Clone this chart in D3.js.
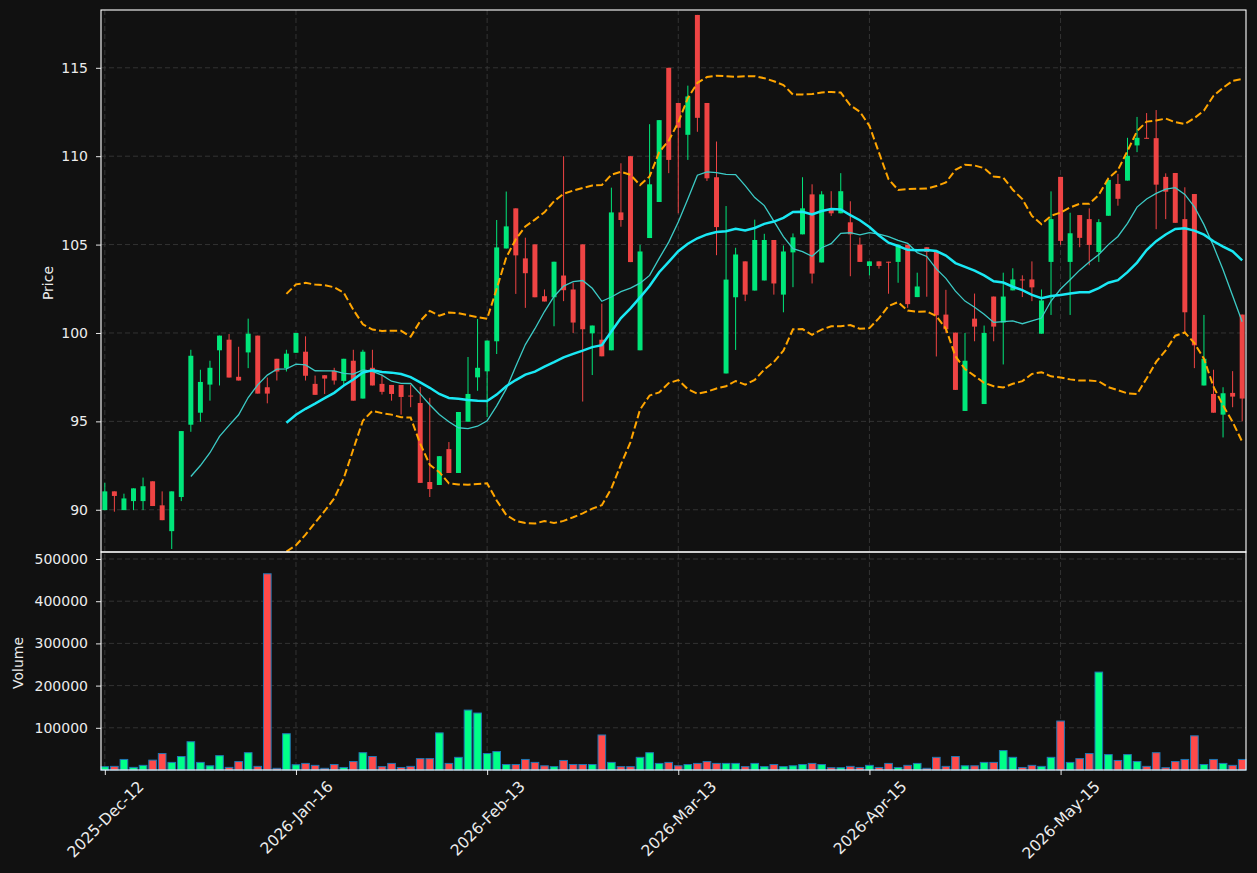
<!DOCTYPE html>
<html>
<head>
<meta charset="utf-8">
<title>Price and volume</title>
<script src="https://d3js.org/d3.v7.min.js"></script>
<style>
  body { margin: 0; background: #111111; }
  text { font-family: "DejaVu Sans", sans-serif; }
</style>
</head>
<body>
<script>
// ---- data (one entry per candle, 120 candles) ----
var opens = [89.98, 91.04, 89.98, 90.49, 90.49, 91.61, 90.25, 88.79, 90.72, 94.81,
  95.49, 97.08, 99.02, 99.62, 97.52, 98.90, 99.85, 96.93, 98.54, 98.01,
  98.88, 98.94, 97.12, 97.61, 97.86, 97.29, 98.43, 96.29, 98.03, 97.12,
  97.06, 97.06, 96.46, 96.04, 91.57, 91.40, 93.43, 92.08, 94.98, 97.49,
  97.83, 99.53, 104.78, 107.05, 104.22, 105.01, 102.08, 102.02, 103.25, 102.46,
  105.01, 99.98, 99.62, 99.02, 106.82, 110.0, 99.02, 105.37, 107.41, 115.0,
  113.01, 111.21, 117.99, 113.01, 108.81, 97.71, 102.02, 104.05, 102.40, 102.97,
  105.26, 102.17, 104.56, 105.58, 107.84, 103.99, 107.0, 106.77, 106.26, 105.0,
  103.79, 104.05, 104.03, 104.02, 105.0, 102.03, 104.85, 104.64, 101.04, 100.02,
  95.59, 100.81, 95.98, 102.06, 100.59, 102.41, 103.03, 103.03, 99.96, 104.02,
  108.83, 104.02, 106.67, 106.44, 104.58, 106.63, 108.43, 108.62, 110.61, 111.04,
  111.02, 108.83, 109.05, 106.44, 107.86, 97.03, 96.55, 95.38, 96.61, 101.04];
var highs = [91.52, 91.04, 90.91, 91.21, 91.82, 91.61, 91.04, 91.04, 94.45, 99.05,
  97.92, 98.43, 99.85, 99.94, 99.22, 100.81, 99.85, 97.48, 98.54, 99.05,
  100.0, 99.81, 97.59, 97.61, 98.03, 98.54, 99.05, 99.05, 99.05, 97.63,
  97.06, 97.06, 97.06, 96.95, 96.33, 93.03, 93.83, 95.53, 98.64, 100.79,
  99.57, 106.39, 108.0, 107.05, 105.39, 105.01, 102.46, 104.03, 110.0, 102.84,
  105.01, 100.42, 101.66, 108.22, 109.60, 110.0, 104.99, 111.81, 112.04, 115.0,
  113.01, 113.99, 117.99, 113.01, 110.83, 107.18, 104.82, 104.05, 106.41, 105.61,
  105.26, 104.95, 105.63, 108.81, 108.41, 108.02, 108.02, 109.04, 107.45, 105.40,
  104.05, 104.05, 104.03, 105.0, 105.0, 103.41, 104.85, 104.64, 102.44, 100.02,
  100.0, 102.23, 100.42, 102.06, 103.41, 103.66, 103.26, 104.05, 102.46, 108.01,
  108.83, 106.80, 106.67, 107.05, 106.44, 108.66, 109.0, 111.04, 112.22, 112.44,
  112.61, 109.03, 109.05, 108.24, 107.86, 101.02, 97.92, 96.93, 97.84, 101.04];
var lows = [89.98, 89.89, 89.98, 89.98, 89.98, 90.21, 89.41, 87.78, 90.49, 94.41,
  94.98, 96.17, 97.03, 97.48, 97.31, 98.01, 96.57, 96.02, 97.31, 97.82,
  98.88, 97.31, 96.50, 96.55, 97.08, 97.06, 96.17, 96.29, 97.03, 96.52,
  96.17, 95.38, 95.80, 91.52, 90.72, 91.40, 92.08, 92.08, 94.98, 96.73,
  95.24, 98.81, 104.78, 102.21, 101.42, 102.02, 101.78, 100.38, 101.80, 100.0,
  96.12, 97.62, 98.68, 99.02, 106.01, 104.01, 99.02, 105.37, 107.41, 109.04,
  106.77, 109.79, 111.38, 108.60, 104.40, 97.71, 99.04, 101.80, 102.40, 102.97,
  102.17, 101.17, 102.59, 105.58, 102.80, 103.99, 106.62, 106.77, 103.21, 104.02,
  103.26, 103.64, 102.22, 102.84, 101.42, 102.03, 102.05, 98.67, 100.0, 96.78,
  95.59, 99.53, 95.98, 99.53, 98.22, 102.41, 102.03, 101.80, 99.96, 101.02,
  104.98, 101.02, 104.85, 103.83, 104.02, 106.63, 107.20, 108.62, 110.23, 111.0,
  105.87, 106.44, 106.23, 100.04, 98.01, 97.03, 95.49, 94.09, 95.80, 95.0];
var closes = [91.04, 90.78, 90.64, 91.21, 91.33, 90.21, 89.41, 91.04, 94.45, 98.71,
  97.23, 98.03, 99.85, 97.48, 97.31, 99.96, 96.57, 96.57, 97.82, 98.83,
  100.0, 97.58, 96.50, 97.42, 97.31, 98.54, 96.17, 98.94, 97.03, 96.67,
  96.55, 96.38, 96.42, 91.52, 91.17, 93.03, 92.08, 95.53, 96.55, 98.03,
  99.57, 104.84, 106.03, 104.39, 103.38, 102.02, 101.78, 104.03, 102.42, 100.59,
  100.21, 100.42, 98.68, 106.82, 106.39, 104.01, 104.61, 108.41, 112.04, 109.79,
  111.61, 113.38, 112.17, 108.75, 105.99, 103.02, 104.44, 102.17, 105.26, 105.26,
  102.80, 104.61, 105.41, 107.05, 103.36, 107.84, 106.77, 108.02, 105.58, 104.02,
  104.05, 103.79, 103.98, 105.0, 101.63, 102.63, 104.58, 101.0, 100.21, 96.78,
  98.43, 100.36, 100.0, 100.36, 102.06, 103.03, 102.99, 102.58, 101.84, 106.44,
  105.21, 105.64, 105.38, 104.98, 106.27, 108.66, 107.59, 110.02, 111.04, 111.0,
  108.39, 107.99, 106.23, 101.17, 99.30, 98.54, 95.49, 96.59, 96.40, 96.29];
var volumes = [7800, 8600, 25000, 6200, 11000, 23400, 39000, 18000, 32000, 67000,
  18000, 10000, 34000, 6200, 20000, 41000, 8600, 465000, 4000, 86000,
  12500, 15600, 11000, 4000, 13000, 6000, 20000, 41000, 32000, 8000,
  15600, 6000, 8600, 27000, 27000, 88000, 15600, 30000, 142000, 135000,
  39000, 43700, 13000, 13000, 25000, 18000, 10000, 8000, 22600, 13000,
  13000, 13000, 83000, 18000, 8000, 8000, 30000, 41000, 15600, 18000,
  10000, 13000, 15600, 20000, 15600, 15600, 15600, 8000, 15600, 8000,
  13000, 8000, 10000, 13000, 15600, 13000, 5500, 5500, 8600, 6000,
  11000, 6000, 15600, 6000, 11000, 15600, 4000, 30000, 8600, 32000,
  10000, 10000, 18000, 18000, 46000, 30000, 6000, 11000, 8600, 30000,
  116000, 18000, 27000, 39000, 232000, 36600, 22600, 36600, 20000, 8600,
  41000, 5500, 20000, 25000, 81000, 13000, 25000, 15600, 11000, 25000];

var tickIdx = [0, 20, 40, 60, 80, 100];
var tickLabels = ["2025-Dec-12", "2026-Jan-16", "2026-Feb-13", "2026-Mar-13", "2026-Apr-15", "2026-May-15"];
var priceTicks = [90, 95, 100, 105, 110, 115];
var volTicks = [100000, 200000, 300000, 400000, 500000];

// ---- layout ----
var w = 1257, h = 873;
var left = 101, right = 1246, plotTop = 10, mid = 552, bottom = 770;
var upCol = "#00e67a", downCol = "#ef4444";
var upVol = "#00ff88", downVol = "#ff4a4a";
var textCol = "#ececec";

var svg = d3.select("body").append("svg")
    .attr("width", w)
    .attr("height", h)
    .style("background", "#111111");

var x = d3.scaleLinear().domain([-0.4, opens.length - 0.6]).range([left, right]);
var yP = d3.scaleLinear().domain([87.61, 118.27]).range([mid, plotTop]);
var yV = d3.scaleLinear().domain([0, 516600]).range([bottom, mid]);
var step = x(1) - x(0);

svg.append("clipPath").attr("id", "clipP")
  .append("rect").attr("x", left).attr("y", plotTop).attr("width", right - left).attr("height", mid - plotTop);

// grid lines
var grid = svg.append("g").attr("stroke", "#3c3c3c").attr("stroke-width", 0.8).attr("stroke-dasharray", "5,3");
grid.selectAll(".gx").data(tickIdx).enter().append("line")
    .attr("x1", function(d) { return x(d); }).attr("x2", function(d) { return x(d); })
    .attr("y1", plotTop).attr("y2", bottom);
grid.selectAll(".gp").data(priceTicks).enter().append("line")
    .attr("x1", left).attr("x2", right)
    .attr("y1", function(d) { return yP(d); }).attr("y2", function(d) { return yP(d); });
grid.selectAll(".gv").data(volTicks).enter().append("line")
    .attr("x1", left).attr("x2", right)
    .attr("y1", function(d) { return yV(d); }).attr("y2", function(d) { return yV(d); });

// candles
var candles = svg.append("g").attr("clip-path", "url(#clipP)");
var bw = step * 0.52;
candles.selectAll("line").data(opens).enter().append("line")
    .attr("x1", function(d, i) { return x(i); }).attr("x2", function(d, i) { return x(i); })
    .attr("y1", function(d, i) { return yP(highs[i]); })
    .attr("y2", function(d, i) { return yP(lows[i]); })
    .attr("stroke", function(d, i) { return closes[i] >= d ? upCol : downCol; })
    .attr("stroke-width", 1);
candles.selectAll("rect").data(opens).enter().append("rect")
    .attr("x", function(d, i) { return x(i) - bw / 2; })
    .attr("width", bw)
    .attr("y", function(d, i) { return yP(Math.max(d, closes[i])); })
    .attr("height", function(d, i) { return Math.max(1, Math.abs(yP(d) - yP(closes[i]))); })
    .attr("fill", function(d, i) { return closes[i] >= d ? upCol : downCol; });

// volume bars
var vw = step * 0.8;
svg.append("g").selectAll("rect").data(volumes).enter().append("rect")
    .attr("x", function(d, i) { return x(i) - vw / 2; })
    .attr("width", vw)
    .attr("y", function(d) { return yV(d); })
    .attr("height", function(d) { return yV(0) - yV(d); })
    .attr("fill", function(d, i) { return closes[i] >= opens[i] ? upVol : downVol; })
    .attr("stroke", "#1f77b4")
    .attr("stroke-width", 1);

// moving averages and bands from the closes
function rollMean(n) {
  return closes.map(function(c, i) {
    return i < n - 1 ? null : d3.mean(closes.slice(i - n + 1, i + 1));
  });
}
function rollStd(n) {
  return closes.map(function(c, i) {
    if (i < n - 1) return null;
    var s = closes.slice(i - n + 1, i + 1), m = d3.mean(s);
    return Math.sqrt(d3.mean(s, function(v) { return (v - m) * (v - m); }));
  });
}
var ma10 = rollMean(10), ma20 = rollMean(20), sd20 = rollStd(20);
var upper = ma20.map(function(m, i) { return m == null ? null : m + 2 * sd20[i]; });
var lower = ma20.map(function(m, i) { return m == null ? null : m - 2 * sd20[i]; });

var line = d3.line()
    .defined(function(d) { return d != null; })
    .x(function(d, i) { return x(i); })
    .y(function(d) { return yP(d); });

var lines = svg.append("g").attr("clip-path", "url(#clipP)").attr("fill", "none");
lines.append("path").attr("d", line(upper)).attr("stroke", "#ffa500").attr("stroke-width", 2).attr("stroke-dasharray", "7.5,3.2");
lines.append("path").attr("d", line(lower)).attr("stroke", "#ffa500").attr("stroke-width", 2).attr("stroke-dasharray", "7.5,3.2");
lines.append("path").attr("d", line(ma10)).attr("stroke", "#3ccbc6").attr("stroke-width", 1.3);
lines.append("path").attr("d", line(ma20)).attr("stroke", "#1ae8f4").attr("stroke-width", 2.5);

// spines
svg.append("rect").attr("x", left).attr("y", plotTop).attr("width", right - left).attr("height", mid - plotTop)
    .attr("fill", "none").attr("stroke", "#ffffff").attr("stroke-width", 1.1);
svg.append("rect").attr("x", left).attr("y", mid).attr("width", right - left).attr("height", bottom - mid)
    .attr("fill", "none").attr("stroke", "#ffffff").attr("stroke-width", 1.1);

// axes
function styleAxis(g) {
  g.select(".domain").remove();
  g.selectAll(".tick line").attr("stroke", "#ffffff").attr("stroke-width", 0.9);
  g.selectAll(".tick text").attr("fill", textCol).style("font-size", "14px").style("font-family", "DejaVu Sans");
}
svg.append("g").attr("transform", "translate(" + left + ",0)")
    .call(d3.axisLeft(yP).tickValues(priceTicks).tickSize(5).tickPadding(8))
    .call(styleAxis);
svg.append("g").attr("transform", "translate(" + left + ",0)")
    .call(d3.axisLeft(yV).tickValues(volTicks).tickSize(5).tickPadding(8).tickFormat(d3.format("d")))
    .call(styleAxis);

var xa = svg.append("g").attr("transform", "translate(0," + bottom + ")")
    .call(d3.axisBottom(x).tickValues(tickIdx).tickSize(5)
      .tickFormat(function(d, i) { return tickLabels[i]; }))
    .call(styleAxis);
// rotate labels 45 degrees, centred under the tick
xa.selectAll(".tick text").style("font-size", "15.5px").each(function() {
  var t = d3.select(this);
  var L = this.getComputedTextLength();
  var half = (L + 16) / (2 * Math.SQRT2);
  t.attr("text-anchor", "middle").attr("dy", "0.35em")
   .attr("y", null)
   .attr("transform", "translate(0," + (8 + half) + ") rotate(-45)");
});

// axis titles
svg.append("text").attr("transform", "translate(53,283) rotate(-90)")
    .attr("text-anchor", "middle").attr("fill", textCol).style("font-size", "14px").text("Price");
svg.append("text").attr("transform", "translate(23,663) rotate(-90)")
    .attr("text-anchor", "middle").attr("fill", textCol).style("font-size", "14px").text("Volume");
</script>
</body>
</html>
